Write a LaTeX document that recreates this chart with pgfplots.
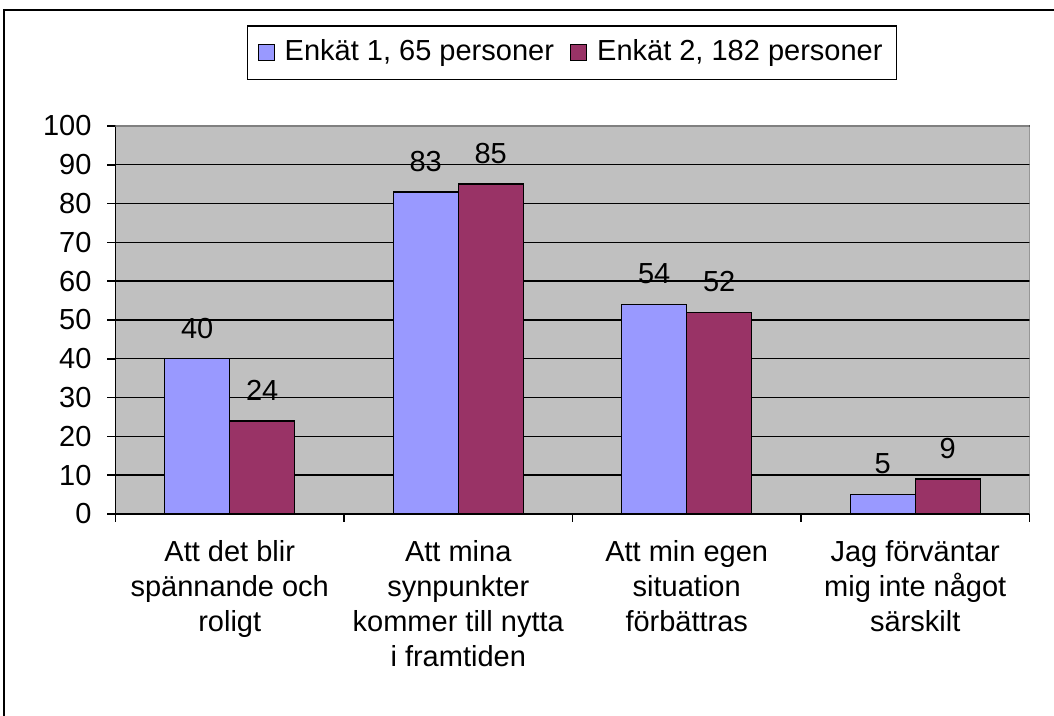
\documentclass[border=0pt]{standalone}
\usepackage{fontspec}
\setmainfont{Liberation Sans}
\usepackage{pgfplots}
\pgfplotsset{compat=1.18}
\definecolor{serieA}{HTML}{9999FF}
\definecolor{serieB}{HTML}{993366}
\definecolor{plotbg}{HTML}{C0C0C0}
\newcommand\chartfont{\fontsize{14.5}{17.5}\selectfont}
\begin{document}
\chartfont
\begin{tikzpicture}
\path[use as bounding box] (-57.75pt,-101pt) rectangle (469.25pt,257pt);
\draw[line width=1.2pt] (-55.75pt,-101pt) -- (-55.75pt,252pt) -- (469.25pt,252pt);
\begin{axis}[
  scale only axis, width=457pt, height=194pt,
  ybar=0pt, bar width=32.5pt,
  ymin=0, ymax=100, ytick={0,10,...,100},
  xmin=-0.5, xmax=3.5,
  xtick={-0.5,0.5,1.5,2.5,3.5}, xticklabels={},
  extra x ticks={0,1,2,3},
  extra x tick labels={{Att det blir\\spännande och\\roligt},{Att mina\\synpunkter\\kommer till nytta\\i framtiden},{Att min egen\\situation\\förbättras},{Jag förväntar\\mig inte något\\särskilt}},
  extra x tick style={major tick length=0pt, tick label style={align=center, yshift=-8pt}},
  axis x line*=bottom, axis y line*=left,
  axis line style={line width=0.8pt},
  tick align=outside, major tick length=4pt,
  tick style={black, line width=0.8pt},
  ymajorgrids, grid style={black, line width=0.7pt},
  axis background/.style={fill=plotbg},
  font=\chartfont,
  ticklabel style={font=\chartfont},
  yticklabel style={xshift=-3pt},
  /pgf/number format/assume math mode=true,
  nodes near coords,
  nodes near coords style={font=\chartfont, black, yshift=5pt},
  legend style={at={(0.4995,1.189)}, anchor=center, draw=black, line width=0.8pt,
    font=\chartfont, inner sep=5pt,
    /tikz/every odd column/.append style={column sep=3pt},
    /tikz/every even column/.append style={column sep=6pt}},
  legend columns=2,
  legend image code/.code={\draw[#1, line width=0.6pt] (0pt,-4pt) rectangle (8pt,4pt);},
]
\addplot[fill=serieA, draw=black, line width=0.7pt] coordinates {(0,40) (1,83) (2,54) (3,5)};
\addplot[fill=serieB, draw=black, line width=0.7pt] coordinates {(0,24) (1,85) (2,52) (3,9)};
\legend{{Enkät 1, 65 personer},{Enkät 2, 182 personer}}
\draw[gray, line width=0.8pt] (rel axis cs:0,1) -- (rel axis cs:1,1) -- (rel axis cs:1,0);
\end{axis}
\end{tikzpicture}
\end{document}
